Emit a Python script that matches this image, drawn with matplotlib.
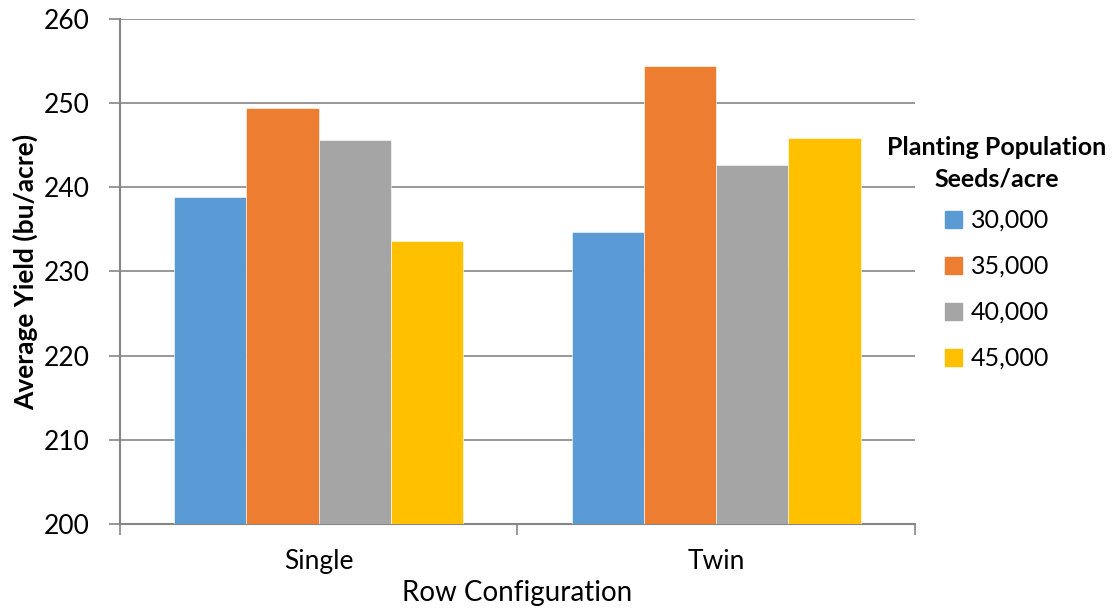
import matplotlib.pyplot as plt
from matplotlib.patches import Patch
import numpy as np

plt.rcParams['font.family'] = ['Lato', 'DejaVu Sans']

categories = ['Single', 'Twin']
populations = ['30,000', '35,000', '40,000', '45,000']
yield_30k = [238.85, 234.65]
yield_35k = [249.45, 254.4]
yield_40k = [245.6, 242.6]
yield_45k = [233.6, 245.9]
colors = ['#5B9BD5', '#ED7D31', '#A5A5A5', '#FFC000']

series = [yield_30k, yield_35k, yield_40k, yield_45k]
grid_col = '#868686'

fig = plt.figure(figsize=(11.15, 6.09), dpi=100)
ax = fig.add_axes([0.1076, 0.1396, 0.7130, 0.8292])

x = np.arange(len(categories))
w = 1 / 5.5
for i, vals in enumerate(series):
    ax.bar(x + (i - 1.5) * w, [v - 200 for v in vals], w, bottom=200,
           color=colors[i], edgecolor='white', linewidth=0.4, zorder=3)

ax.set_xlim(-0.5, 1.5)
ax.set_ylim(200, 260)
ax.set_yticks(range(200, 261, 10))
ax.yaxis.grid(True, color=grid_col, linewidth=1.2, zorder=0)

for s in ['top', 'right']:
    ax.spines[s].set_visible(False)
for s in ['left', 'bottom']:
    ax.spines[s].set_color(grid_col)
    ax.spines[s].set_linewidth(1.5)

ax.tick_params(axis='y', length=8, color=grid_col, width=1.2, labelsize=19, pad=14)
ax.set_xticks(x)
ax.set_xticklabels(categories, fontsize=19)
ax.tick_params(axis='x', which='major', length=0, pad=18)
ax.set_xticks([-0.5, 0.5, 1.5], minor=True)
ax.tick_params(axis='x', which='minor', length=8, color=grid_col, width=1.2)

ax.set_ylabel('Average Yield (bu/acre)', fontsize=19, fontweight='bold', labelpad=4)
ax.set_xlabel('Row Configuration', fontsize=20, labelpad=4)

# legend title drawn separately so the entries sit under its centre
fig.text(997 / 1115, 1 - 163 / 609, 'Planting Population\nSeeds/acre',
         ha='center', va='center', fontsize=18, fontweight='bold',
         linespacing=1.45)

handles = [Patch(color=c) for c in colors]
fig.legend(handles, populations, loc='upper left',
           bbox_to_anchor=(945 / 1115, 1 - 209 / 609), frameon=False,
           borderpad=0, borderaxespad=0,
           fontsize=18, handlelength=0.68, handleheight=0.68,
           handletextpad=0.35, labelspacing=0.92)

fig.savefig('out.png', dpi=100)
